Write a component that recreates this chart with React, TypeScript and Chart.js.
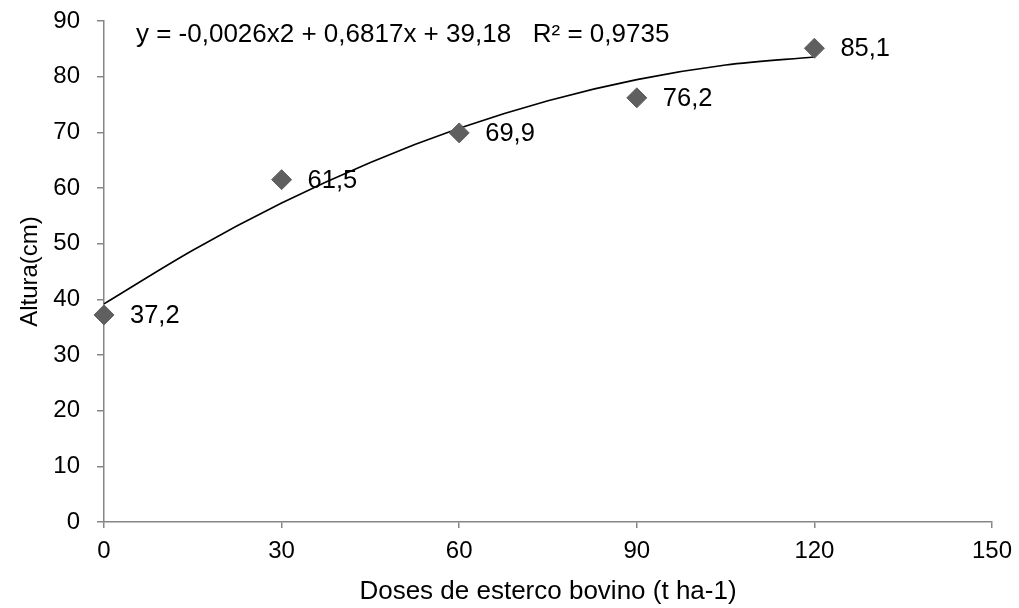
import React, { useEffect, useRef } from "react";
import { Chart, registerables } from "chart.js";

Chart.register(...registerables);

const doses = [0, 30, 60, 90, 120];
const altura = [37.2, 61.5, 69.9, 76.2, 85.1];
const pointLabels = ["37,2", "61,5", "69,9", "76,2", "85,1"];
const trendX = [0, 15, 30, 45, 60, 75, 90, 105, 120];
const trendY = [39.18, 48.82, 57.29, 64.59, 70.72, 75.68, 79.47, 82.09, 83.54];
const equationText = "y = -0,0026x2 + 0,6817x + 39,18   R\u00B2 = 0,9735";
const xTitle = "Doses de esterco bovino (t ha-1)";
const yTitle = "Altura(cm)";

const FONT = "'Liberation Sans', Arial, sans-serif";
const AXIS = "#868686";

const labelPlugin = {
  id: "labelsAndEquation",
  afterDatasetsDraw(chart: any) {
    const ctx = chart.ctx;
    const meta = chart.getDatasetMeta(0);
    ctx.save();
    ctx.fillStyle = "#000";
    ctx.font = `25.5px ${FONT}`;
    ctx.textAlign = "left";
    ctx.textBaseline = "middle";
    meta.data.forEach((el: any, i: number) => {
      ctx.fillText(pointLabels[i], el.x + 26, el.y + 1);
    });
    const xs = chart.scales.x;
    const ys = chart.scales.y;
    ctx.font = `26px ${FONT}`;
    ctx.fillText(equationText, xs.getPixelForValue(5.4), ys.getPixelForValue(87.5));
    ctx.restore();
  },
};

export default function App() {
  const ref = useRef<HTMLCanvasElement>(null);
  useEffect(() => {
    if (!ref.current) return;
    const chart = new Chart(ref.current, {
      type: "scatter",
      data: {
        datasets: [
          {
            data: doses.map((d, i) => ({ x: d, y: altura[i] })),
            pointStyle: "rectRot",
            pointRadius: 10,
            pointBackgroundColor: "#5f5f5f",
            pointBorderColor: "#5f5f5f",
            pointBorderWidth: 1,
            showLine: false,
            clip: false,
          },
          {
            data: trendX.map((d, i) => ({ x: d, y: trendY[i] })),
            showLine: true,
            pointRadius: 0,
            borderColor: "#000",
            borderWidth: 1.6,
            cubicInterpolationMode: "monotone",
            fill: false,
            clip: false,
          },
        ],
      } as any,
      options: {
        responsive: false,
        animation: false,
        layout: { padding: { left: 0, top: 21, right: 27, bottom: 0 } },
        plugins: { legend: { display: false }, tooltip: { enabled: false } },
        scales: {
          x: {
            type: "linear",
            min: 0,
            max: 150,
            ticks: { stepSize: 30, color: "#000", font: { family: FONT, size: 24 }, padding: 9 },
            grid: { display: true, drawOnChartArea: false, drawTicks: true, tickLength: 6, color: AXIS, lineWidth: 1.5 },
            border: { display: true, color: AXIS, width: 1.5 },
            title: { display: true, text: xTitle, color: "#000", font: { family: FONT, size: 26 }, padding: { top: 0, bottom: 1 } },
            afterFit: (s: any) => { s.height = 86; s.paddingLeft = 0; s.paddingRight = 0; },
          },
          y: {
            type: "linear",
            min: 0,
            max: 90,
            ticks: { stepSize: 10, color: "#000", font: { family: FONT, size: 24 }, padding: 17 },
            grid: { display: true, drawOnChartArea: false, drawTicks: true, tickLength: 7, color: AXIS, lineWidth: 1.5 },
            border: { display: true, color: AXIS, width: 1.5 },
            title: { display: true, text: yTitle, color: "#000", font: { family: FONT, size: 24 }, padding: { top: 16, bottom: 0 } },
            afterFit: (s: any) => { s.width = 104; s.paddingTop = 0; s.paddingBottom = 0; },
          },
        },
      } as any,
      plugins: [labelPlugin],
    });
    return () => chart.destroy();
  }, []);
  return (
    <div style={{ position: "fixed", left: 0, top: 0, width: 1019, height: 608, background: "#fff" }}>
      <canvas ref={ref} width={1019} height={608} style={{ display: "block" }} />
    </div>
  );
}
